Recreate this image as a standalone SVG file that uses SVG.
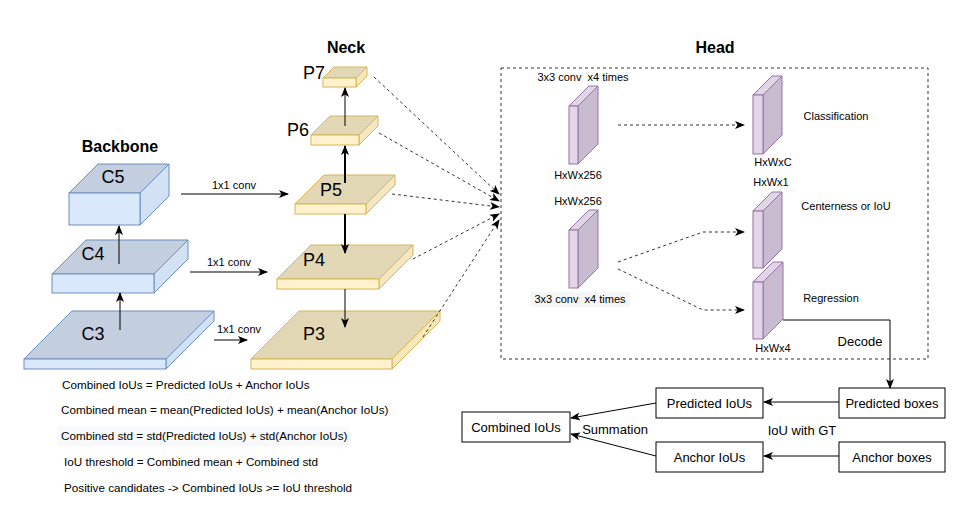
<svg xmlns="http://www.w3.org/2000/svg" width="973" height="507" viewBox="0 0 973 507">
<defs>
<marker id="arr" markerUnits="userSpaceOnUse" markerWidth="10" markerHeight="8" refX="9" refY="4" orient="auto">
<path d="M0,0 L10,4 L0,8 L2.5,4 Z" fill="#000"/>
</marker>
<style>
text{font-family:"Liberation Sans",Arial,sans-serif;fill:#000}
.t{font-size:11px}
.f{font-size:11.7px}
.m{font-size:13px}
.big{font-size:18px}
.h{font-size:16px;font-weight:bold}
.bf{fill:#dae8fc;stroke:#6c8ebf;stroke-width:1}
.bt{fill:#c3cfdf;stroke:#6c8ebf;stroke-width:1}
.bs{fill:#d3e1f4;stroke:#6c8ebf;stroke-width:1}
.nf{fill:#fff2cc;stroke:#d6b656;stroke-width:1}
.nt{fill:#e3d8b6;stroke:#d6b656;stroke-width:1}
.ns{fill:#f6e7bd;stroke:#d6b656;stroke-width:1}
.hf{fill:#e1d5e7;stroke:#9673a6;stroke-width:1}
.hs{fill:#c9bcd1;stroke:#9673a6;stroke-width:1}
.ln{fill:none;stroke:#000;stroke-width:1}
.dl{fill:none;stroke:#333;stroke-width:1;stroke-dasharray:3 3}
.box{fill:#fff;stroke:#000;stroke-width:1}
</style>
</defs>
<rect width="973" height="507" fill="#fff"/>

<text class="h" x="120" y="152" text-anchor="middle">Backbone</text>
<text class="h" x="346" y="53" text-anchor="middle">Neck</text>
<text class="h" x="715" y="53" text-anchor="middle">Head</text>

<g id="C5">
<polygon class="bt" points="69,193 98,164 169,164 140,193"/>
<polygon class="bs" points="140,193 169,164 169,196 140,225"/>
<rect class="bf" x="69" y="193" width="71" height="32"/>
<text class="big" x="113" y="183" text-anchor="middle">C5</text>
</g>
<g id="C4">
<polygon class="bt" points="52,274 86,240 188,240 154,274"/>
<polygon class="bs" points="154,274 188,240 188,259 154,293"/>
<rect class="bf" x="52" y="274" width="102" height="19"/>
<text class="big" x="93" y="260" text-anchor="middle">C4</text>
</g>
<g id="C3">
<polygon class="bt" points="24,359 72,311 214,311 166,359"/>
<polygon class="bs" points="166,359 214,311 214,321 166,369"/>
<rect class="bf" x="24" y="359" width="142" height="10"/>
<text class="big" x="93" y="340" text-anchor="middle">C3</text>
</g>

<g id="P7">
<polygon class="nt" points="323,78 334,67 367,67 356,78"/>
<polygon class="ns" points="356,78 367,67 367,76 356,87"/>
<rect class="nf" x="323" y="78" width="33" height="9"/>
<text class="big" x="314" y="79" text-anchor="middle">P7</text>
</g>
<g id="P6">
<polygon class="nt" points="311,135 330,116 378,116 359,135"/>
<polygon class="ns" points="359,135 378,116 378,126 359,145"/>
<rect class="nf" x="311" y="135" width="48" height="10"/>
<text class="big" x="298" y="136" text-anchor="middle">P6</text>
</g>
<g id="P5">
<polygon class="nt" points="295,204 324,175 395,175 366,204"/>
<polygon class="ns" points="366,204 395,175 395,185 366,214"/>
<rect class="nf" x="295" y="204" width="71" height="10"/>
<text class="big" x="331" y="196" text-anchor="middle">P5</text>
</g>
<g id="P4">
<polygon class="nt" points="277,279 311,245 413,245 379,279"/>
<polygon class="ns" points="379,279 413,245 413,255 379,289"/>
<rect class="nf" x="277" y="279" width="102" height="10"/>
<text class="big" x="314" y="266" text-anchor="middle">P4</text>
</g>
<g id="P3">
<polygon class="nt" points="251,359 299,311 440,311 392,359"/>
<polygon class="ns" points="392,359 440,311 440,321 392,369"/>
<rect class="nf" x="251" y="359" width="141" height="10"/>
<text class="big" x="314" y="340" text-anchor="middle">P3</text>
</g>

<g id="head-frame">
<rect class="dl" x="501" y="68" width="427" height="291"/>
</g>

<g id="head-tower-1">
<text class="t" x="583" y="81" text-anchor="middle">3x3 conv &#160;x4 times</text>
<polygon class="hs" points="578,106 598,86 598,144 578,164"/>
<polygon class="hf" points="569,106 589,86 598,86 578,106"/>
<rect class="hf" x="569" y="106" width="9" height="58"/>
<text class="t" x="578" y="179" text-anchor="middle">HxWx256</text>
</g>
<g id="head-tower-2">
<text class="t" x="578" y="205" text-anchor="middle">HxWx256</text>
<polygon class="hs" points="578,230 598,210 598,268 578,288"/>
<polygon class="hf" points="569,230 589,210 598,210 578,230"/>
<rect class="hf" x="569" y="230" width="9" height="58"/>
<rect x="531" y="292" width="99" height="15" fill="#f5f6f8"/>
<text class="t" x="580" y="303" text-anchor="middle">3x3 conv &#160;x4 times</text>
</g>
<g id="classification">
<polygon class="hs" points="763,95 782,76 782,135 763,154"/>
<polygon class="hf" points="753,95 772,76 782,76 763,95"/>
<rect class="hf" x="753" y="95" width="10" height="59"/>
<text class="t" x="836" y="120" text-anchor="middle">Classification</text>
<text class="t" x="773" y="166" text-anchor="middle">HxWxC</text>
</g>
<g id="centerness">
<text class="t" x="771" y="186" text-anchor="middle">HxWx1</text>
<polygon class="hs" points="763,211 782,192 782,249 763,268"/>
<polygon class="hf" points="753,211 772,192 782,192 763,211"/>
<rect class="hf" x="753" y="211" width="10" height="57"/>
<text class="t" x="846" y="210" text-anchor="middle">Centerness or IoU</text>
</g>
<g id="regression">
<polygon class="hs" points="763,282 783,262 783,319 763,339"/>
<polygon class="hf" points="753,282 773,262 783,262 763,282"/>
<rect class="hf" x="753" y="282" width="10" height="57"/>
<text class="t" x="831" y="302" text-anchor="middle">Regression</text>
<text class="t" x="773" y="352" text-anchor="middle">HxWx4</text>
</g>

<g id="predicted-boxes">
<rect class="box" x="839" y="388" width="106" height="30"/>
<text class="m" x="892" y="408" text-anchor="middle">Predicted boxes</text>
</g>
<g id="anchor-boxes">
<rect class="box" x="839" y="442" width="106" height="30"/>
<text class="m" x="892" y="462" text-anchor="middle">Anchor boxes</text>
</g>
<g id="predicted-ious">
<rect class="box" x="656" y="388" width="107" height="30"/>
<text class="m" x="709.5" y="408" text-anchor="middle">Predicted IoUs</text>
</g>
<g id="anchor-ious">
<rect class="box" x="656" y="442" width="107" height="30"/>
<text class="m" x="709.5" y="462" text-anchor="middle">Anchor IoUs</text>
</g>
<g id="combined-ious">
<rect class="box" x="462" y="412" width="108" height="30"/>
<text class="m" x="516" y="432" text-anchor="middle">Combined IoUs</text>
</g>

<g id="connectors">
<path class="ln" d="M120,330 V293" marker-end="url(#arr)"/>
<path class="ln" d="M119,264 V226" marker-end="url(#arr)"/>
<path class="ln" d="M181,194 H288" marker-end="url(#arr)"/>
<path class="ln" d="M190,272 H267" marker-end="url(#arr)"/>
<path class="ln" d="M214,340 H247" marker-end="url(#arr)"/>
<path class="ln" d="M345,126 V88" marker-end="url(#arr)"/>
<path class="ln" d="M345,183 V146" style="stroke-width:2" marker-end="url(#arr)"/>
<path class="ln" d="M345,214 V253" style="stroke-width:2" marker-end="url(#arr)"/>
<path class="ln" d="M345,289 V327" marker-end="url(#arr)"/>
<path class="dl" d="M374,77 L499,194" marker-end="url(#arr)"/>
<path class="dl" d="M379,133 L499,201" marker-end="url(#arr)"/>
<path class="dl" d="M392,194 L499,207" marker-end="url(#arr)"/>
<path class="dl" d="M413,259 L499,214" marker-end="url(#arr)"/>
<path class="dl" d="M423,337 L499,220" marker-end="url(#arr)"/>
<path class="dl" d="M618,125 H744" marker-end="url(#arr)"/>
<path class="dl" d="M618,262 L703,232 H744" marker-end="url(#arr)"/>
<path class="dl" d="M618,269 L703,310 H744" marker-end="url(#arr)"/>
<path class="ln" d="M783,320 H890 V388" marker-end="url(#arr)"/>
<path class="ln" d="M839,402 H764" marker-end="url(#arr)"/>
<path class="ln" d="M839,456 H764" marker-end="url(#arr)"/>
<path class="ln" d="M656,403 L571,418" marker-end="url(#arr)"/>
<path class="ln" d="M656,456 L571,434" marker-end="url(#arr)"/>
<text class="t" x="234" y="189" text-anchor="middle">1x1 conv</text>
<text class="t" x="229" y="266" text-anchor="middle">1x1 conv</text>
<text class="t" x="239" y="333" text-anchor="middle">1x1 conv</text>
<text class="m" x="860" y="346" text-anchor="middle">Decode</text>
<text class="m" x="802" y="435" text-anchor="middle">IoU with GT</text>
<text class="m" x="615" y="434" text-anchor="middle">Summation</text>
</g>

<g id="formulas">
<text class="f" x="62" y="389">Combined IoUs = Predicted IoUs + Anchor IoUs</text>
<text class="f" x="61" y="414">Combined mean = mean(Predicted IoUs) + mean(Anchor IoUs)</text>
<rect x="57" y="426" width="292" height="20" fill="#f8f9fa"/>
<text class="f" x="61" y="440">Combined std = std(Predicted IoUs) + std(Anchor IoUs)</text>
<text class="f" x="64" y="466">IoU threshold = Combined mean + Combined std</text>
<text class="f" x="64" y="492">Positive candidates -&gt; Combined IoUs &gt;= IoU threshold</text>
</g>
</svg>
